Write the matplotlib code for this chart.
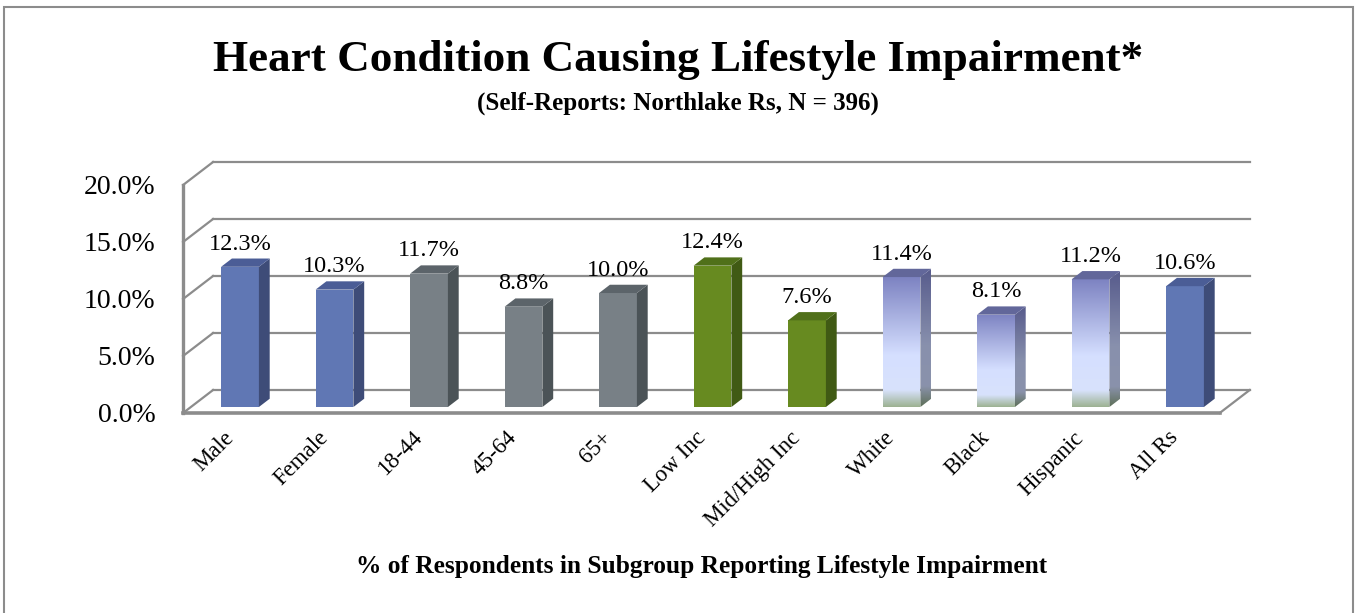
import numpy as np
import matplotlib
matplotlib.use("Agg")
import matplotlib.pyplot as plt
from matplotlib.patches import Polygon, Rectangle
from matplotlib.colors import LinearSegmentedColormap

# data
categories = ["Male", "Female", "18-44", "45-64", "65+", "Low Inc",
              "Mid/High Inc", "White", "Black", "Hispanic", "All Rs"]
values = [12.3, 10.3, 11.7, 8.8, 10.0, 12.4, 7.6, 11.4, 8.1, 11.2, 10.6]
groups = ["sex", "sex", "age", "age", "age", "inc", "inc",
          "race", "race", "race", "all"]
yticks = [0, 5, 10, 15, 20]

# colours per group: (front, side, top)
solid = {
    "sex": ("#6077b4", "#3e4c78", "#4b5d96"),
    "all": ("#6077b4", "#3e4c78", "#4b5d96"),
    "age": ("#788086", "#4b5357", "#5c646a"),
    "inc": ("#678a20", "#405a14", "#50701a"),
}
front_grad = LinearSegmentedColormap.from_list(
    "fg", [(0, "#9db292"), (0.13, "#d8e2fc"), (0.4, "#d5dfff"), (1, "#7d83c2")])
side_grad = LinearSegmentedColormap.from_list(
    "sg", [(0, "#5d6f57"), (0.15, "#8a92ab"), (0.45, "#8890ad"), (1, "#575b8c")])

# pseudo 3d geometry (front-plane units: x = category, y = percent)
PX_X, PX_Y = 94.5, 11.4          # pixels per unit
X0_PX, Y0_PX = 232.2, 413        # pixel of (0, 0) on front plane
DX, DY = 30 / PX_X, 23 / PX_Y    # full depth offset
D0, DB = 0.26, 0.36              # bar start depth, bar depth
W = 0.40
XL, XR = -0.52, 10.45

W_PX, H_PX = 1358, 613
fig = plt.figure(figsize=(W_PX / 100, H_PX / 100), dpi=100)
ax = fig.add_axes([0, 0, 1, 1])
ax.set_xlim(-X0_PX / PX_X, (W_PX - X0_PX) / PX_X)
ax.set_ylim(-(H_PX - Y0_PX) / PX_Y, Y0_PX / PX_Y)
ax.axis("off")

plt.rcParams["font.family"] = "Liberation Serif"
gcol = "#8c8c8c"

# walls and gridlines
for v in yticks:
    ax.plot([XL, XL + DX], [v, v + DY], color=gcol, lw=1.6, zorder=1)
    ax.plot([XL + DX, XR + DX], [v + DY, v + DY], color=gcol, lw=1.6, zorder=1)
    ax.text(XL - 0.29, v - 0.25, f"{v:.1f}%", ha="right", va="center", fontsize=20)
ax.plot([XL, XL], [0, yticks[-1]], color=gcol, lw=2.4, zorder=1)
ax.plot([XR, XR + DX], [0, DY], color=gcol, lw=1.6, zorder=1)
ax.plot([XL, XR], [0, 0], color=gcol, lw=2.6, zorder=5)


def grad_fill(poly, cmap, y0, y1):
    g = np.linspace(0, 1, 256).reshape(-1, 1)
    xs = [p[0] for p in poly]
    im = ax.imshow(g, cmap=cmap, origin="lower", aspect="auto",
                   extent=[min(xs), max(xs), y0, y1], zorder=3,
                   interpolation="bilinear")
    patch = Polygon(poly, closed=True, facecolor="none", edgecolor="none")
    ax.add_patch(patch)
    im.set_clip_path(patch)


for i, (cat, v, grp) in enumerate(zip(categories, values, groups)):
    xl = i + D0 * DX - W / 2
    xr = xl + W
    y0 = D0 * DY
    y1 = y0 + v
    dx, dy = DB * DX, DB * DY
    front = [(xl, y0), (xr, y0), (xr, y1), (xl, y1)]
    side = [(xr, y0), (xr + dx, y0 + dy), (xr + dx, y1 + dy), (xr, y1)]
    top = [(xl, y1), (xr, y1), (xr + dx, y1 + dy), (xl + dx, y1 + dy)]
    if grp == "race":
        grad_fill(front, front_grad, y0, y1)
        grad_fill(side, side_grad, y0, y1 + dy)
        ax.add_patch(Polygon(top, closed=True, facecolor="#62679a",
                             edgecolor="none", zorder=3))
    else:
        fc, sc, tc = solid[grp]
        ax.add_patch(Polygon(front, closed=True, facecolor=fc, edgecolor="none", zorder=3))
        ax.add_patch(Polygon(side, closed=True, facecolor=sc, edgecolor="none", zorder=3))
        ax.add_patch(Polygon(top, closed=True, facecolor=tc, edgecolor="none", zorder=3))
    ax.text(i + D0 * DX, y1 + dy + 0.35, f"{v:.1f}%", ha="center", va="bottom",
            fontsize=17.5, zorder=6)
    ax.text(i - 0.02, -1.9, cat, ha="right", va="center", rotation=45,
            rotation_mode="anchor", fontsize=16.5)

fig.text(678 / W_PX, 1 - 60 / H_PX, "Heart Condition Causing Lifestyle Impairment*",
         ha="center", va="center", fontsize=32.5, fontweight="bold")
fig.text(678 / W_PX, 1 - 103 / H_PX, "(Self-Reports: Northlake Rs, N = 396)",
         ha="center", va="center", fontsize=18, fontweight="bold")
fig.text(702 / W_PX, 1 - 566 / H_PX,
         "% of Respondents in Subgroup Reporting Lifestyle Impairment",
         ha="center", va="center", fontsize=18.3, fontweight="bold")

# outer chart border
fig.add_artist(Rectangle((4 / W_PX, -0.05), (1353 - 4) / W_PX, 1.05 - 7 / H_PX,
                         transform=fig.transFigure, fill=False,
                         edgecolor="#8c8c8c", lw=1.5))

fig.savefig("out.png", dpi=100)
